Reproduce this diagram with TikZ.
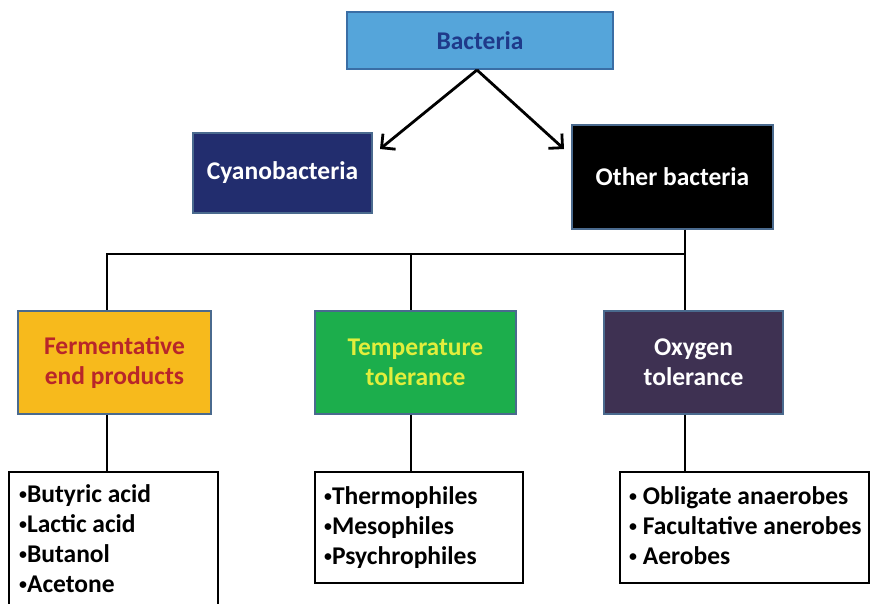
\documentclass[tikz,border=0pt]{standalone}
\usepackage{fontspec}
\setmainfont{Carlito}
\usetikzlibrary{arrows.meta}
\definecolor{bactfill}{HTML}{55A5DA}
\definecolor{bacttext}{HTML}{1F3A8A}
\definecolor{bactedge}{HTML}{3A6EA5}
\definecolor{cyanfill}{HTML}{222D6E}
\definecolor{boxedge}{HTML}{4A6A8E}
\definecolor{fermfill}{HTML}{F7BA1C}
\definecolor{fermtext}{HTML}{B8262A}
\definecolor{tempfill}{HTML}{1CAE4C}
\definecolor{temptext}{HTML}{E2EE3C}
\definecolor{oxyfill}{HTML}{3E3152}
\newcommand{\blt}{\raisebox{0.22ex}{\scalebox{0.62}{•}}}
\tikzset{
  catbox/.style={draw=boxedge, line width=1.2pt, minimum width=#1, inner sep=0pt, align=center,
     font=\fontsize{25.5}{30}\selectfont\bfseries},
  listbox/.style={draw=black, line width=2.2pt},
  listtext/.style={anchor=north west, inner sep=0pt, align=left,
     font=\fontsize{25.5}{30}\selectfont\bfseries},
  link/.style={draw=black, line width=2.6pt},
  arr/.style={draw=black, line width=2.8pt, -{Straight Barb[length=10pt,width=20pt,line width=2.8pt]}}
}
\begin{document}
\begin{tikzpicture}[x=1pt,y=-1pt]
\useasboundingbox (0,0) rectangle (871,604);
\clip (0,0) rectangle (871,604);
\fill[white] (0,0) rectangle (871,604);
% top
\node[catbox=266pt, minimum height=57pt, fill=bactfill, draw=bactedge, text=bacttext] (bact) at (480,40.5) {Bacteria};
\node[catbox=179pt, minimum height=80pt, fill=cyanfill, text=white] (cyano) at (282.5,173) {Cyanobacteria};
\node[catbox=201pt, minimum height=104pt, fill=black, text=white] (other) at (672.5,177) {Other bacteria};
% arrows
\coordinate (apex) at (477,70);
\coordinate (tipL) at (380,149);
\coordinate (tipR) at (564,149);
\draw[arr] (apex) -- (tipL);
\draw[arr] (apex) -- (tipR);
% category boxes
\node[catbox=193pt, minimum height=103pt, fill=fermfill, text=fermtext] (ferm) at (114.5,362.5) {Fermentative\\end products};
\node[catbox=201pt, minimum height=103pt, fill=tempfill, text=temptext] (temp) at (415.5,362.5) {Temperature\\tolerance};
\node[catbox=179pt, minimum height=103pt, fill=oxyfill, text=white] (oxy) at (693.5,362.5) {Oxygen\\tolerance};
% tree connector
\coordinate (j1) at (107,254);
\coordinate (j2) at (411,254);
\coordinate (j3) at (685,254);
\draw[link] (j3|-other.south) -- (j3) -- (j1) -- (j1|-ferm.north);
\draw[link] (j2) -- (j2|-temp.north);
\draw[link] (j3) -- (j3|-oxy.north);
% list boxes
\draw[listbox] (9,472) rectangle (218,650);
\draw[listbox] (315,472) rectangle (523,583);
\draw[listbox] (620,472) rectangle (869,583);
\coordinate (l1) at (107,472);
\coordinate (l2) at (411,472);
\coordinate (l3) at (685,472);
\draw[link] (l1|-ferm.south) -- (l1);
\draw[link] (l2|-temp.south) -- (l2);
\draw[link] (l3|-oxy.south) -- (l3);
\node[listtext] (list1) at (19,484) {\blt Butyric acid\\\blt Lactic acid\\\blt Butanol\\\blt Acetone};
\node[listtext] (list2) at (324,486) {\blt Thermophiles\\\blt Mesophiles\\\blt Psychrophiles};
\node[listtext] (list3) at (629,486) {\blt\ Obligate anaerobes\\\blt\ Facultative anerobes\\\blt\ Aerobes};
\end{tikzpicture}
\end{document}
